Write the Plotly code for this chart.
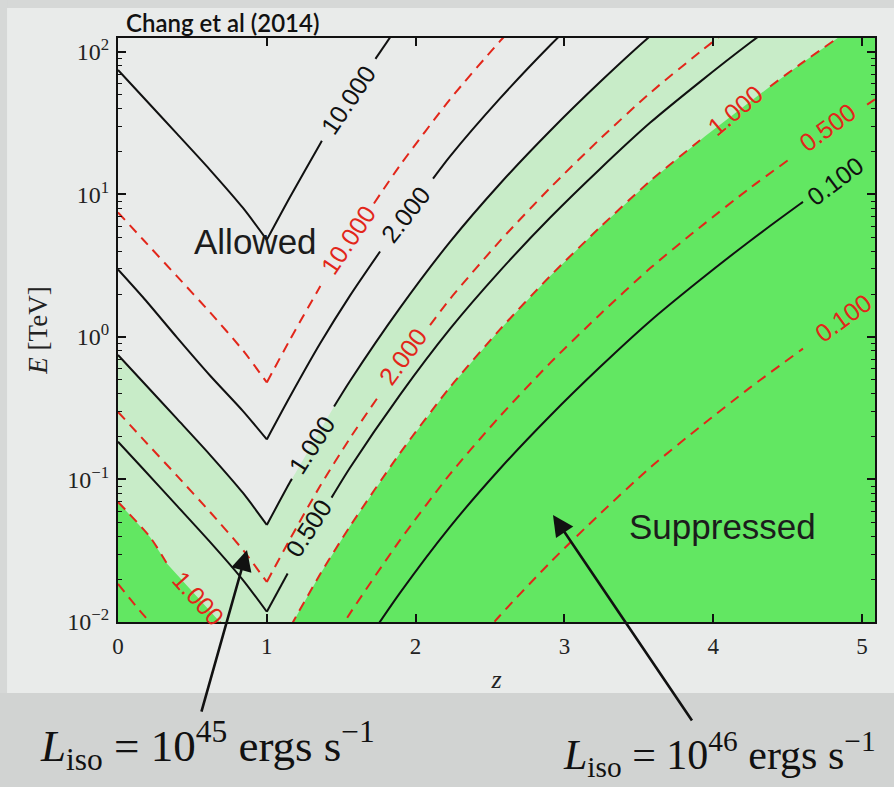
import math
import plotly.graph_objects as go

# ---------------- data ----------------
# z (redshift) and E (TeV) along each contour.
# None separates drawn pieces (the vertex at z=1 and the gap left for each in-line label)
# L_iso = 1e45 erg/s  (black solid contours)
Z_B10 = [0, 0.168, 0.397, 0.618, 0.840, 1.0, None, 1.0, 1.156, 1.358, 1.37, None, 1.73, 1.895]
E_B10 = [74.8, 48.3, 26.6, 14.9, 8.04, 4.80, None, 4.80, 9.59, 22.6, 23.8, None, 89.5, 160]

Z_B2 = [0, 0.168, 0.397, 0.618, 0.840, 1.0, None, 1.0, 1.156, 1.358, 1.559, 1.761, None, 2.117, 2.231, 2.567, 2.903, 3.239]
E_B2 = [2.98, 1.90, 0.99, 0.537, 0.302, 0.191, None, 0.191, 0.382, 0.899, 1.95, 3.98, None, 12.9, 18.5, 47.2, 111, 245]

Z_B1 = [0, 0.168, 0.397, 0.618, 0.840, 1.0, None, 1.0, 1.156, 1.169, None, 1.452, 1.559, 1.895, 2.231, 2.567, 2.903, 3.239, 3.575, 3.911]
E_B1 = [0.748, 0.483, 0.266, 0.149, 0.0804, 0.0480, None, 0.0480, 0.0959, 0.101, None, 0.325, 0.491, 1.60, 4.65, 11.9, 27.9, 61.5, 129, 251]

Z_B05 = [0, 0.168, 0.397, 0.618, 0.840, 1.0, None, 1.0, 1.14, None, 1.435, 1.559, 1.895, 2.231, 2.567, 2.903, 3.239, 3.575, 3.911, 4.247, 4.583]
E_B05 = [0.184, 0.119, 0.0653, 0.0365, 0.0197, 0.0118, None, 0.0118, 0.0219, None, 0.0746, 0.121, 0.393, 1.14, 2.91, 6.86, 15.1, 31.8, 61.7, 116, 210]

Z_B01 = [1.559, 1.895, 2.231, 2.567, 2.903, 3.239, 3.575, 3.911, 4.247, 4.583, 4.603]
E_B01 = [0.00491, 0.0160, 0.0465, 0.119, 0.279, 0.615, 1.29, 2.51, 4.72, 8.57, 8.87]

# L_iso = 1e46 erg/s  (red dashed contours)
Z_R10 = [0, 0.168, 0.397, 0.618, 0.840, 1.0, None, 1.0, 1.156, 1.36, None, 1.72, 1.895, 2.231, 2.567, 2.903]
E_R10 = [7.48, 4.83, 2.66, 1.49, 0.804, 0.480, None, 0.480, 0.959, 2.28, None, 8.65, 16.0, 46.5, 119, 279]

Z_R2 = [0, 0.168, 0.397, 0.618, 0.840, 1.0, None, 1.0, 1.156, 1.358, 1.559, 1.747, None, 2.097, 2.231, 2.567, 2.903, 3.239, 3.575, 3.911, 4.247]
E_R2 = [0.298, 0.192, 0.106, 0.0592, 0.0320, 0.0191, None, 0.0191, 0.0382, 0.0899, 0.195, 0.378, None, 1.21, 1.85, 4.72, 11.1, 24.5, 51.5, 100, 188]

Z_R1 = [0, 0.215, 0.33, None, 0.685, 1.0, None, 1.0, 1.156, 1.358, 1.559, 1.895, 2.231, 2.567, 2.903, 3.239, 3.575, 3.911, 3.945, None, 4.382, 4.583, 4.919]
E_R1 = [0.0695, 0.0395, 0.0256, None, 0.0100, 0.00458, None, 0.00458, 0.00916, 0.0216, 0.0469, 0.153, 0.444, 1.13, 2.67, 5.88, 12.4, 24.0, 25.6, None, 57.3, 81.8, 144]

Z_R05 = [0, 0.168, 0.397, 0.618, 0.840, 1.0, 1.156, 1.358, 1.559, 1.895, 2.231, 2.567, 2.903, 3.239, 3.575, 3.911, 4.247, 4.516, None, 5.034, 5.087]
E_R05 = [0.0185, 0.0113, 0.00624, 0.00348, 0.00188, 0.00112, 0.00225, 0.0053, 0.0115, 0.0375, 0.109, 0.278, 0.655, 1.44, 3.03, 5.89, 11.1, 17.8, None, 42.7, 46.6]

Z_R01 = [2.231, 2.567, 2.903, 3.239, 3.575, 3.911, 4.247, 4.583, 4.603]
E_R01 = [0.00434, 0.0111, 0.0261, 0.0574, 0.121, 0.234, 0.441, 0.80, 0.828]

# contour labels: text, z, E, angle, colour-group
LABEL_TEXT = ["10.000", "2.000", "1.000", "0.500", "0.100",
              "10.000", "2.000", "1.000", "1.000", "0.500", "0.100"]
LABEL_Z = [1.546, 1.935, 1.30, 1.28, 4.819, 1.546, 1.915, 4.15, 0.538, 4.77, 4.872]
LABEL_E = [46.0, 7.30, 0.176, 0.0457, 12.4, 4.80, 0.74, 39.0, 0.0147, 29.8, 1.36]
LABEL_ANGLE = [-56, -52, -57, -57, -37, -56, -54, -40, 48, -36, -36]
LABEL_GROUP = ["45", "45", "45", "45", "45", "46", "46", "46", "46", "46", "46"]

X_TICKS = [0, 1, 2, 3, 4, 5]
Y_TICKS = [0.01, 0.1, 1, 10, 100]
Y_TICKTEXT = ["10<sup>\u22122</sup>", "10<sup>\u22121</sup>", "10<sup>0</sup>", "10<sup>1</sup>", "10<sup>2</sup>"]
Y_MINOR = [m * d for d in (0.01, 0.1, 1, 10, 100) for m in range(2, 10)]

Z_MAX = 5.087
LOGE_MIN, LOGE_MAX = -2.0, 2.098

# ---------------- styling ----------------
PANEL = "#e9ebea"
STRIP = "#d6d8d7"
BOTTOM = "#d1d3d2"
LIGHT_GREEN = "#c8ecc8"
DARK_GREEN = "#62e762"
RED = "#e2261a"
BLACK = "#111111"
SERIF = "Liberation Serif"
SANS = "Liberation Sans"

fig = go.Figure()


def clean(zs, es):
    pts = [(a, b) for a, b in zip(zs, es) if a is not None]
    return [p[0] for p in pts], [p[1] for p in pts]


# light green: below the L=1e45 unity contour
zb, eb = clean(Z_B1, E_B1)
fig.add_trace(go.Scatter(
    x=zb + [Z_MAX + 0.3, Z_MAX + 0.3, -0.05, -0.05],
    y=eb + [eb[-1], 10 ** (LOGE_MIN - 1), 10 ** (LOGE_MIN - 1), eb[0]],
    mode="lines", fill="toself", fillcolor=LIGHT_GREEN, line=dict(width=0),
    hoverinfo="skip", showlegend=False))

# dark green: below the L=1e46 unity contour
zr, er = clean(Z_R1, E_R1)
fig.add_trace(go.Scatter(
    x=[-0.05] + zr + [Z_MAX + 0.3, Z_MAX + 0.3, -0.05],
    y=[er[0]] + er + [er[-1], 10 ** (LOGE_MIN - 1), 10 ** (LOGE_MIN - 1)],
    mode="lines", fill="toself", fillcolor=DARK_GREEN, line=dict(width=0),
    hoverinfo="skip", showlegend=False))

for zs, es in [(Z_R10, E_R10), (Z_R2, E_R2), (Z_R1, E_R1), (Z_R05, E_R05), (Z_R01, E_R01)]:
    fig.add_trace(go.Scatter(x=zs, y=es, mode="lines", connectgaps=False,
                             line=dict(color=RED, width=2, dash="10px,7px", shape="spline", smoothing=0.7),
                             hoverinfo="skip", showlegend=False))

for zs, es in [(Z_B10, E_B10), (Z_B2, E_B2), (Z_B1, E_B1), (Z_B05, E_B05), (Z_B01, E_B01)]:
    fig.add_trace(go.Scatter(x=zs, y=es, mode="lines", connectgaps=False,
                             line=dict(color=BLACK, width=2, shape="spline", smoothing=0.7),
                             hoverinfo="skip", showlegend=False))

annotations = []
for t, zz, ee, ang, grp in zip(LABEL_TEXT, LABEL_Z, LABEL_E, LABEL_ANGLE, LABEL_GROUP):
    annotations.append(dict(x=zz, y=math.log10(ee), xref="x", yref="y", text=t,
                            showarrow=False, textangle=ang, xanchor="center", yanchor="middle",
                            font=dict(family=SANS, size=25, color=BLACK if grp == "45" else RED)))

annotations.append(dict(x=0.927, y=0.667, xref="x", yref="y", text="Allowed", showarrow=False,
                        xanchor="center", yanchor="middle",
                        font=dict(family=SANS, size=35, color="#1c1c1c")))
annotations.append(dict(x=4.059, y=-1.333, xref="x", yref="y", text="Suppressed", showarrow=False,
                        xanchor="center", yanchor="middle",
                        font=dict(family=SANS, size=35, color="#1c1c1c")))

# arrows from the luminosity captions
annotations.append(dict(x=0.867, y=-1.495, xref="x", yref="y", text="", showarrow=True,
                        ax=-46, ay=163, arrowhead=2, arrowsize=1.6, arrowwidth=2.6,
                        arrowcolor=BLACK, standoff=0, startstandoff=0))
annotations.append(dict(x=2.923, y=-1.249, xref="x", yref="y", text="", showarrow=True,
                        ax=140, ay=207, arrowhead=2, arrowsize=1.6, arrowwidth=2.6,
                        arrowcolor=BLACK, standoff=0, startstandoff=0))

annotations.append(dict(x=0.118, y=-0.212, xref="paper", yref="paper", xanchor="center", yanchor="middle",
                        text="<i>L</i><sub>iso</sub> = 10<sup>45</sup> ergs s<sup>\u22121</sup>",
                        showarrow=False, font=dict(family=SERIF, size=45, color=BLACK)))
annotations.append(dict(x=0.795, y=-0.226, xref="paper", yref="paper", xanchor="center", yanchor="middle",
                        text="<i>L</i><sub>iso</sub> = 10<sup>46</sup> ergs s<sup>\u22121</sup>",
                        showarrow=False, font=dict(family=SERIF, size=42, color=BLACK)))

annotations.append(dict(x=0.008, y=1.027, xref="paper", yref="paper", xanchor="left",
                        yanchor="middle", text="Chang et al (2014)", showarrow=False,
                        font=dict(family="Lato", size=24, color="#111111", weight=600)))

shapes = [
    dict(type="rect", xref="paper", yref="paper", x0=-0.2, x1=1.1, y0=1.0514, y1=1.2,
         fillcolor=STRIP, line=dict(width=0), layer="below"),
    dict(type="rect", xref="paper", yref="paper", x0=-0.2, x1=-0.1466, y0=-0.4, y1=1.2,
         fillcolor=STRIP, line=dict(width=0), layer="below"),
    dict(type="rect", xref="paper", yref="paper", x0=-0.2, x1=1.1, y0=-0.4, y1=-0.1216,
         fillcolor=BOTTOM, line=dict(width=0), layer="below"),
]

fig.update_layout(
    width=894, height=787,
    margin=dict(l=118, r=19, t=38, b=165, autoexpand=False),
    paper_bgcolor=PANEL, plot_bgcolor=PANEL,
    annotations=annotations, shapes=shapes,
    showlegend=False,
    xaxis=dict(range=[0, Z_MAX], tickvals=X_TICKS, ticktext=[str(v) for v in X_TICKS],
               showline=True, linecolor=BLACK, linewidth=2, mirror="allticks",
               ticks="inside", ticklen=8, tickwidth=1.5, tickcolor=BLACK,
               showgrid=False, zeroline=False, ticklabelstandoff=2,
               tickfont=dict(family=SERIF, size=23, color="#222"),
               title=dict(text="<i>z</i>", font=dict(family=SERIF, size=26, color="#222"), standoff=12)),
    yaxis=dict(type="log", range=[LOGE_MIN, LOGE_MAX], tickvals=Y_TICKS, ticktext=Y_TICKTEXT,
               showline=True, linecolor=BLACK, linewidth=2, mirror="allticks",
               ticks="inside", ticklen=8, tickwidth=1.5, tickcolor=BLACK,
               minor=dict(tickmode="array", tickvals=Y_MINOR, ticks="inside", ticklen=4,
                          tickwidth=1, tickcolor=BLACK, showgrid=False),
               showgrid=False, zeroline=False, ticklabelstandoff=2,
               tickfont=dict(family=SERIF, size=24, color="#222"),
               title=dict(text="<i>E</i> [TeV]", font=dict(family=SERIF, size=27, color="#222"), standoff=12)),
)

fig.write_html("out.html", config={"displayModeBar": False},
               post_script="document.body.style.margin='0px';")
